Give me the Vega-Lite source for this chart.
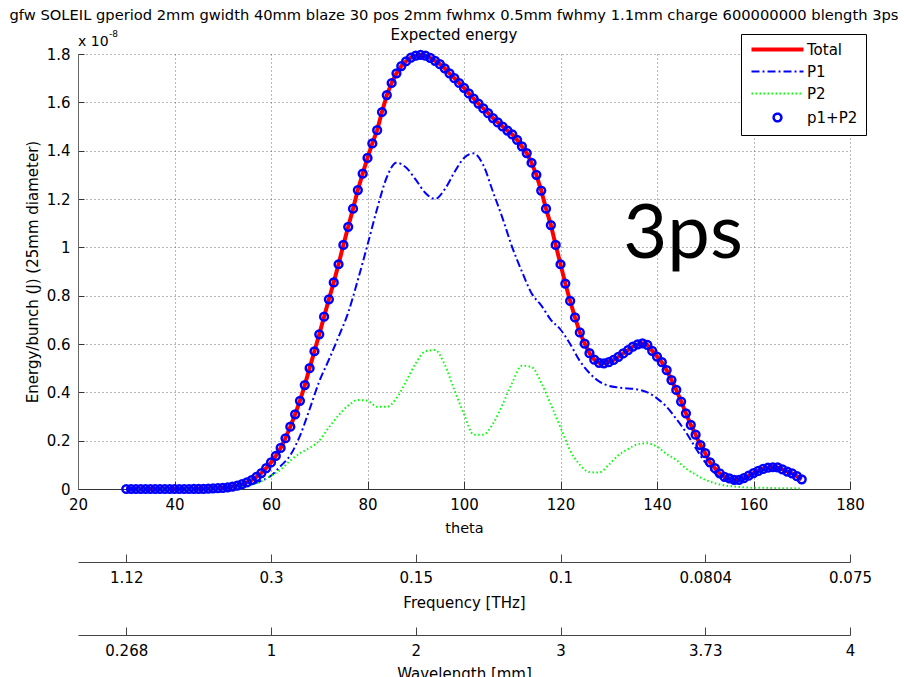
{
  "$schema": "https://vega.github.io/schema/vega-lite/v6.json",
  "width": 772,
  "height": 435,
  "autosize": {"type": "none"},
  "padding": {"left": 78, "top": 54, "right": 54, "bottom": 188},
  "background": "white",
  "title": {
    "text": "gfw SOLEIL gperiod 2mm gwidth 40mm blaze 30 pos 2mm fwhmx 0.5mm fwhmy 1.1mm charge 600000000 blength 3ps",
    "subtitle": "Expected energy",
    "font": "DejaVu Sans",
    "fontSize": 14.7,
    "fontWeight": "normal",
    "color": "black",
    "subtitleFont": "DejaVu Sans",
    "subtitleFontSize": 15,
    "subtitleColor": "black",
    "subtitlePadding": 5,
    "anchor": "middle",
    "offset": -13,
    "dx": -10
  },
  "datasets": {
    "energy": [
      {"theta":30,"series":"Total","energy":0},{"theta":31,"series":"Total","energy":0},{"theta":32,"series":"Total","energy":0},{"theta":33,"series":"Total","energy":0},{"theta":34,"series":"Total","energy":0},{"theta":35,"series":"Total","energy":0},{"theta":36,"series":"Total","energy":0},{"theta":37,"series":"Total","energy":0},{"theta":38,"series":"Total","energy":0},{"theta":39,"series":"Total","energy":0},{"theta":40,"series":"Total","energy":0},{"theta":41,"series":"Total","energy":0},{"theta":42,"series":"Total","energy":0},{"theta":43,"series":"Total","energy":0},{"theta":44,"series":"Total","energy":0.001},{"theta":45,"series":"Total","energy":0.001},{"theta":46,"series":"Total","energy":0.001},{"theta":47,"series":"Total","energy":0.002},{"theta":48,"series":"Total","energy":0.003},{"theta":49,"series":"Total","energy":0.004},{"theta":50,"series":"Total","energy":0.005},{"theta":51,"series":"Total","energy":0.007},{"theta":52,"series":"Total","energy":0.010},{"theta":53,"series":"Total","energy":0.014},{"theta":54,"series":"Total","energy":0.020},{"theta":55,"series":"Total","energy":0.027},{"theta":56,"series":"Total","energy":0.037},{"theta":57,"series":"Total","energy":0.050},{"theta":58,"series":"Total","energy":0.066},{"theta":59,"series":"Total","energy":0.086},{"theta":60,"series":"Total","energy":0.110},{"theta":61,"series":"Total","energy":0.137},{"theta":62,"series":"Total","energy":0.170},{"theta":63,"series":"Total","energy":0.210},{"theta":64,"series":"Total","energy":0.258},{"theta":65,"series":"Total","energy":0.309},{"theta":66,"series":"Total","energy":0.365},{"theta":67,"series":"Total","energy":0.430},{"theta":68,"series":"Total","energy":0.500},{"theta":69,"series":"Total","energy":0.570},{"theta":70,"series":"Total","energy":0.640},{"theta":71,"series":"Total","energy":0.713},{"theta":72,"series":"Total","energy":0.785},{"theta":73,"series":"Total","energy":0.855},{"theta":74,"series":"Total","energy":0.930},{"theta":75,"series":"Total","energy":1.010},{"theta":76,"series":"Total","energy":1.085},{"theta":77,"series":"Total","energy":1.160},{"theta":78,"series":"Total","energy":1.237},{"theta":79,"series":"Total","energy":1.305},{"theta":80,"series":"Total","energy":1.370},{"theta":81,"series":"Total","energy":1.430},{"theta":82,"series":"Total","energy":1.485},{"theta":83,"series":"Total","energy":1.560},{"theta":84,"series":"Total","energy":1.630},{"theta":85,"series":"Total","energy":1.680},{"theta":86,"series":"Total","energy":1.720},{"theta":87,"series":"Total","energy":1.750},{"theta":88,"series":"Total","energy":1.770},{"theta":89,"series":"Total","energy":1.785},{"theta":90,"series":"Total","energy":1.793},{"theta":91,"series":"Total","energy":1.796},{"theta":92,"series":"Total","energy":1.793},{"theta":93,"series":"Total","energy":1.784},{"theta":94,"series":"Total","energy":1.772},{"theta":95,"series":"Total","energy":1.758},{"theta":96,"series":"Total","energy":1.741},{"theta":97,"series":"Total","energy":1.720},{"theta":98,"series":"Total","energy":1.700},{"theta":99,"series":"Total","energy":1.680},{"theta":100,"series":"Total","energy":1.660},{"theta":101,"series":"Total","energy":1.637},{"theta":102,"series":"Total","energy":1.615},{"theta":103,"series":"Total","energy":1.595},{"theta":104,"series":"Total","energy":1.575},{"theta":105,"series":"Total","energy":1.555},{"theta":106,"series":"Total","energy":1.535},{"theta":107,"series":"Total","energy":1.517},{"theta":108,"series":"Total","energy":1.500},{"theta":109,"series":"Total","energy":1.483},{"theta":110,"series":"Total","energy":1.467},{"theta":111,"series":"Total","energy":1.445},{"theta":112,"series":"Total","energy":1.418},{"theta":113,"series":"Total","energy":1.390},{"theta":114,"series":"Total","energy":1.350},{"theta":115,"series":"Total","energy":1.300},{"theta":116,"series":"Total","energy":1.235},{"theta":117,"series":"Total","energy":1.160},{"theta":118,"series":"Total","energy":1.092},{"theta":119,"series":"Total","energy":1.010},{"theta":120,"series":"Total","energy":0.930},{"theta":121,"series":"Total","energy":0.850},{"theta":122,"series":"Total","energy":0.778},{"theta":123,"series":"Total","energy":0.710},{"theta":124,"series":"Total","energy":0.648},{"theta":125,"series":"Total","energy":0.602},{"theta":126,"series":"Total","energy":0.562},{"theta":127,"series":"Total","energy":0.535},{"theta":128,"series":"Total","energy":0.522},{"theta":129,"series":"Total","energy":0.520},{"theta":130,"series":"Total","energy":0.525},{"theta":131,"series":"Total","energy":0.534},{"theta":132,"series":"Total","energy":0.547},{"theta":133,"series":"Total","energy":0.561},{"theta":134,"series":"Total","energy":0.575},{"theta":135,"series":"Total","energy":0.589},{"theta":136,"series":"Total","energy":0.598},{"theta":137,"series":"Total","energy":0.603},{"theta":138,"series":"Total","energy":0.596},{"theta":139,"series":"Total","energy":0.572},{"theta":140,"series":"Total","energy":0.548},{"theta":141,"series":"Total","energy":0.525},{"theta":142,"series":"Total","energy":0.492},{"theta":143,"series":"Total","energy":0.451},{"theta":144,"series":"Total","energy":0.410},{"theta":145,"series":"Total","energy":0.362},{"theta":146,"series":"Total","energy":0.313},{"theta":147,"series":"Total","energy":0.265},{"theta":148,"series":"Total","energy":0.225},{"theta":149,"series":"Total","energy":0.182},{"theta":150,"series":"Total","energy":0.148},{"theta":151,"series":"Total","energy":0.110},{"theta":152,"series":"Total","energy":0.086},{"theta":153,"series":"Total","energy":0.065},{"theta":154,"series":"Total","energy":0.050},{"theta":155,"series":"Total","energy":0.044},{"theta":156,"series":"Total","energy":0.038},{"theta":157,"series":"Total","energy":0.038},{"theta":158,"series":"Total","energy":0.045},{"theta":159,"series":"Total","energy":0.055},{"theta":160,"series":"Total","energy":0.066},{"theta":161,"series":"Total","energy":0.075},{"theta":162,"series":"Total","energy":0.083},{"theta":163,"series":"Total","energy":0.088},{"theta":164,"series":"Total","energy":0.090},{"theta":165,"series":"Total","energy":0.089},{"theta":166,"series":"Total","energy":0.081},{"theta":167,"series":"Total","energy":0.072},{"theta":168,"series":"Total","energy":0.065},{"theta":169,"series":"Total","energy":0.053},{"theta":170,"series":"Total","energy":0.040},
      {"theta":30,"series":"P1","energy":0},{"theta":32,"series":"P1","energy":0},{"theta":34,"series":"P1","energy":0},{"theta":36,"series":"P1","energy":0},{"theta":38,"series":"P1","energy":0},{"theta":40,"series":"P1","energy":0},{"theta":42,"series":"P1","energy":0},{"theta":44,"series":"P1","energy":0.001},{"theta":46,"series":"P1","energy":0.001},{"theta":48,"series":"P1","energy":0.002},{"theta":50,"series":"P1","energy":0.003},{"theta":52,"series":"P1","energy":0.006},{"theta":54,"series":"P1","energy":0.011},{"theta":56,"series":"P1","energy":0.020},{"theta":58,"series":"P1","energy":0.034},{"theta":60,"series":"P1","energy":0.055},{"theta":62,"series":"P1","energy":0.095},{"theta":64,"series":"P1","energy":0.140},{"theta":66,"series":"P1","energy":0.220},{"theta":68,"series":"P1","energy":0.330},{"theta":70,"series":"P1","energy":0.445},{"theta":72,"series":"P1","energy":0.535},{"theta":74,"series":"P1","energy":0.630},{"theta":76,"series":"P1","energy":0.730},{"theta":78,"series":"P1","energy":0.865},{"theta":80,"series":"P1","energy":1.010},{"theta":82,"series":"P1","energy":1.160},{"theta":84,"series":"P1","energy":1.290},{"theta":86,"series":"P1","energy":1.350},{"theta":88,"series":"P1","energy":1.330},{"theta":90,"series":"P1","energy":1.280},{"theta":92,"series":"P1","energy":1.225},{"theta":94,"series":"P1","energy":1.200},{"theta":96,"series":"P1","energy":1.240},{"theta":98,"series":"P1","energy":1.310},{"theta":100,"series":"P1","energy":1.370},{"theta":102,"series":"P1","energy":1.389},{"theta":104,"series":"P1","energy":1.340},{"theta":106,"series":"P1","energy":1.230},{"theta":108,"series":"P1","energy":1.120},{"theta":110,"series":"P1","energy":1.000},{"theta":112,"series":"P1","energy":0.900},{"theta":114,"series":"P1","energy":0.810},{"theta":116,"series":"P1","energy":0.760},{"theta":118,"series":"P1","energy":0.700},{"theta":120,"series":"P1","energy":0.660},{"theta":122,"series":"P1","energy":0.600},{"theta":124,"series":"P1","energy":0.530},{"theta":126,"series":"P1","energy":0.480},{"theta":128,"series":"P1","energy":0.445},{"theta":130,"series":"P1","energy":0.427},{"theta":132,"series":"P1","energy":0.420},{"theta":134,"series":"P1","energy":0.416},{"theta":136,"series":"P1","energy":0.412},{"theta":138,"series":"P1","energy":0.400},{"theta":140,"series":"P1","energy":0.375},{"theta":142,"series":"P1","energy":0.340},{"theta":144,"series":"P1","energy":0.290},{"theta":146,"series":"P1","energy":0.235},{"theta":148,"series":"P1","energy":0.170},{"theta":150,"series":"P1","energy":0.110},{"theta":152,"series":"P1","energy":0.065},{"theta":154,"series":"P1","energy":0.038},{"theta":156,"series":"P1","energy":0.028},{"theta":158,"series":"P1","energy":0.038},{"theta":160,"series":"P1","energy":0.060},{"theta":162,"series":"P1","energy":0.078},{"theta":164,"series":"P1","energy":0.086},{"theta":166,"series":"P1","energy":0.078},{"theta":168,"series":"P1","energy":0.062},{"theta":170,"series":"P1","energy":0.038},
      {"theta":30,"series":"P2","energy":0},{"theta":32,"series":"P2","energy":0},{"theta":34,"series":"P2","energy":0},{"theta":36,"series":"P2","energy":0},{"theta":38,"series":"P2","energy":0},{"theta":40,"series":"P2","energy":0},{"theta":42,"series":"P2","energy":0},{"theta":44,"series":"P2","energy":0},{"theta":46,"series":"P2","energy":0},{"theta":48,"series":"P2","energy":0.001},{"theta":50,"series":"P2","energy":0.002},{"theta":52,"series":"P2","energy":0.004},{"theta":54,"series":"P2","energy":0.009},{"theta":56,"series":"P2","energy":0.017},{"theta":58,"series":"P2","energy":0.032},{"theta":60,"series":"P2","energy":0.055},{"theta":62,"series":"P2","energy":0.080},{"theta":64,"series":"P2","energy":0.118},{"theta":66,"series":"P2","energy":0.148},{"theta":68,"series":"P2","energy":0.170},{"theta":70,"series":"P2","energy":0.200},{"theta":72,"series":"P2","energy":0.255},{"theta":74,"series":"P2","energy":0.305},{"theta":76,"series":"P2","energy":0.345},{"theta":78,"series":"P2","energy":0.368},{"theta":80,"series":"P2","energy":0.365},{"theta":82,"series":"P2","energy":0.340},{"theta":84,"series":"P2","energy":0.340},{"theta":86,"series":"P2","energy":0.375},{"theta":88,"series":"P2","energy":0.445},{"theta":90,"series":"P2","energy":0.520},{"theta":92,"series":"P2","energy":0.570},{"theta":94,"series":"P2","energy":0.575},{"theta":96,"series":"P2","energy":0.515},{"theta":98,"series":"P2","energy":0.410},{"theta":100,"series":"P2","energy":0.310},{"theta":102,"series":"P2","energy":0.225},{"theta":104,"series":"P2","energy":0.225},{"theta":106,"series":"P2","energy":0.270},{"theta":108,"series":"P2","energy":0.350},{"theta":110,"series":"P2","energy":0.440},{"theta":112,"series":"P2","energy":0.510},{"theta":114,"series":"P2","energy":0.505},{"theta":116,"series":"P2","energy":0.440},{"theta":118,"series":"P2","energy":0.350},{"theta":120,"series":"P2","energy":0.255},{"theta":122,"series":"P2","energy":0.160},{"theta":124,"series":"P2","energy":0.100},{"theta":126,"series":"P2","energy":0.070},{"theta":128,"series":"P2","energy":0.068},{"theta":130,"series":"P2","energy":0.100},{"theta":132,"series":"P2","energy":0.140},{"theta":134,"series":"P2","energy":0.165},{"theta":136,"series":"P2","energy":0.185},{"theta":138,"series":"P2","energy":0.189},{"theta":140,"series":"P2","energy":0.175},{"theta":142,"series":"P2","energy":0.145},{"theta":144,"series":"P2","energy":0.120},{"theta":146,"series":"P2","energy":0.085},{"theta":148,"series":"P2","energy":0.060},{"theta":150,"series":"P2","energy":0.038},{"theta":152,"series":"P2","energy":0.024},{"theta":154,"series":"P2","energy":0.015},{"theta":156,"series":"P2","energy":0.010},{"theta":158,"series":"P2","energy":0.007},{"theta":160,"series":"P2","energy":0.005},{"theta":162,"series":"P2","energy":0.005},{"theta":164,"series":"P2","energy":0.004},{"theta":166,"series":"P2","energy":0.003},{"theta":168,"series":"P2","energy":0.003},{"theta":170,"series":"P2","energy":0.002}
    ],
    "notes": [
      {"theta": 145.4, "energy": 0.956, "label": "3ps"}
    ],
    "scaleNote": [
      {"theta": 20, "energy": 1.8, "label": "x 10", "exponent": "-8"}
    ]
  },
  "resolve": {"axis": {"x": "independent"}},
  "layer": [
    {
      "data": {"name": "energy"},
      "transform": [{"filter": "datum.series === 'Total'"}],
      "mark": {"type": "line", "color": "#ff0000", "strokeWidth": 4},
      "encoding": {
        "x": {"field": "theta", "type": "quantitative",
              "scale": {"domain": [20, 180], "nice": false, "zero": false},
              "axis": {"orient": "bottom", "title": "theta", "values": [20,40,60,80,100,120,140,160,180],
                       "grid": true, "gridColor": "#333", "gridDash": [1,3], "gridOpacity": 0.7,
                       "tickSize": -8, "labelPadding": 16, "titlePadding": 9, "titleFontSize": 14.5}},
        "y": {"field": "energy", "type": "quantitative",
              "scale": {"domain": [0, 1.8], "nice": false, "zero": true},
              "axis": {"title": "Energy/bunch (J) (25mm diameter)", "values": [0,0.2,0.4,0.6,0.8,1,1.2,1.4,1.6,1.8],
                       "format": "~g", "grid": true, "gridColor": "#333", "gridDash": [1,3], "gridOpacity": 0.7,
                       "tickSize": -6, "labelPadding": 14, "titlePadding": 6, "domainColor": "#666"}},
        "color": {"field": "series", "type": "nominal",
                  "scale": {"domain": ["Total", "P1", "P2", "p1+P2"], "range": ["#ff0000", "#0000ff", "#00ff00", "#0000ff"]},
                  "legend": {
                    "title": null, "orient": "none", "legendX": 663, "legendY": -20,
                    "strokeColor": "black", "fillColor": "white", "padding": 8,
                    "symbolType": "stroke", "symbolSize": 100, "symbolOffset": 21,
                    "labelOffset": 22, "labelFont": "DejaVu Sans", "labelFontSize": 15, "labelColor": "black",
                    "rowPadding": 6, "labelLimit": 200,
                    "encode": {"symbols": {"update": {
                      "shape": {"signal": "datum.value === 'p1+P2' ? 'circle' : 'stroke'"},
                      "size": {"signal": "datum.value === 'p1+P2' ? 60 : 2704"},
                      "strokeDash": {"signal": "datum.value === 'P1' ? [8,3,2,3] : datum.value === 'P2' ? [1.5,2.5] : [1,0]"},
                      "strokeWidth": {"signal": "datum.value === 'Total' ? 4 : datum.value === 'p1+P2' ? 2.5 : 2"},
                      "fill": {"value": "transparent"}
                    }}}
                  }}
      }
    },
    {
      "data": {"name": "energy"},
      "transform": [{"filter": "datum.series === 'P1'"}],
      "mark": {"type": "line", "color": "#0000ff", "strokeWidth": 2, "strokeDash": [8,3,2,3], "interpolate": "monotone"},
      "encoding": {
        "x": {"field": "theta", "type": "quantitative",
              "axis": {"orient": "bottom", "offset": 73, "title": "Frequency [THz]", "values": [30,60,90,120,150,180],
                       "labelExpr": "datum.value == 30 ? '1.12' : datum.value == 60 ? '0.3' : datum.value == 90 ? '0.15' : datum.value == 120 ? '0.1' : datum.value == 150 ? '0.0804' : '0.075'",
                       "grid": false, "tickSize": -8, "labelPadding": 16, "titlePadding": 10, "domainColor": "#444", "tickColor": "#444"}},
        "y": {"field": "energy", "type": "quantitative"},
        "color": {"field": "series", "type": "nominal"}
      }
    },
    {
      "data": {"name": "energy"},
      "transform": [{"filter": "datum.series === 'P2'"}],
      "mark": {"type": "line", "color": "#00ff00", "strokeWidth": 2, "strokeDash": [1.5,2.5], "interpolate": "monotone"},
      "encoding": {
        "x": {"field": "theta", "type": "quantitative",
              "axis": {"orient": "bottom", "offset": 146, "title": "Wavelength [mm]", "values": [30,60,90,120,150,180],
                       "labelExpr": "datum.value == 30 ? '0.268' : datum.value == 60 ? '1' : datum.value == 90 ? '2' : datum.value == 120 ? '3' : datum.value == 150 ? '3.73' : '4'",
                       "grid": false, "tickSize": -8, "labelPadding": 16, "titlePadding": 8, "domainColor": "#444", "tickColor": "#444"}},
        "y": {"field": "energy", "type": "quantitative"},
        "color": {"field": "series", "type": "nominal"}
      }
    },
    {
      "data": {"name": "energy"},
      "transform": [{"filter": "datum.series === 'Total'"}],
      "mark": {"type": "point", "shape": "circle", "filled": false, "strokeWidth": 2.5, "size": 60, "opacity": 1},
      "encoding": {
        "x": {"field": "theta", "type": "quantitative", "axis": null},
        "y": {"field": "energy", "type": "quantitative"},
        "color": {"datum": "p1+P2", "type": "nominal"}
      }
    },
    {
      "data": {"name": "notes"},
      "mark": {"type": "text", "font": "Lato", "fontSize": 76, "align": "center", "baseline": "alphabetic", "color": "black"},
      "encoding": {
        "x": {"field": "theta", "type": "quantitative", "axis": null},
        "y": {"field": "energy", "type": "quantitative"},
        "text": {"field": "label"}
      }
    },
    {
      "data": {"name": "scaleNote"},
      "mark": {"type": "text", "font": "DejaVu Sans", "fontSize": 14, "align": "left", "baseline": "alphabetic", "dx": 0, "dy": -8, "color": "black"},
      "encoding": {
        "x": {"field": "theta", "type": "quantitative", "axis": null},
        "y": {"field": "energy", "type": "quantitative"},
        "text": {"field": "label"}
      }
    },
    {
      "data": {"name": "scaleNote"},
      "mark": {"type": "text", "font": "DejaVu Sans", "fontSize": 9, "align": "left", "baseline": "alphabetic", "dx": 31, "dy": -17, "color": "black"},
      "encoding": {
        "x": {"field": "theta", "type": "quantitative", "axis": null},
        "y": {"field": "energy", "type": "quantitative"},
        "text": {"field": "exponent"}
      }
    }
  ],
  "config": {
    "view": {"stroke": null},
    "font": "DejaVu Sans",
    "axis": {
      "labelFont": "DejaVu Sans", "labelFontSize": 15, "labelColor": "black",
      "titleFont": "DejaVu Sans", "titleFontSize": 15, "titleFontWeight": "normal", "titleColor": "black",
      "domainColor": "#333", "tickColor": "#333", "labelFlush": false
    }
  }
}
